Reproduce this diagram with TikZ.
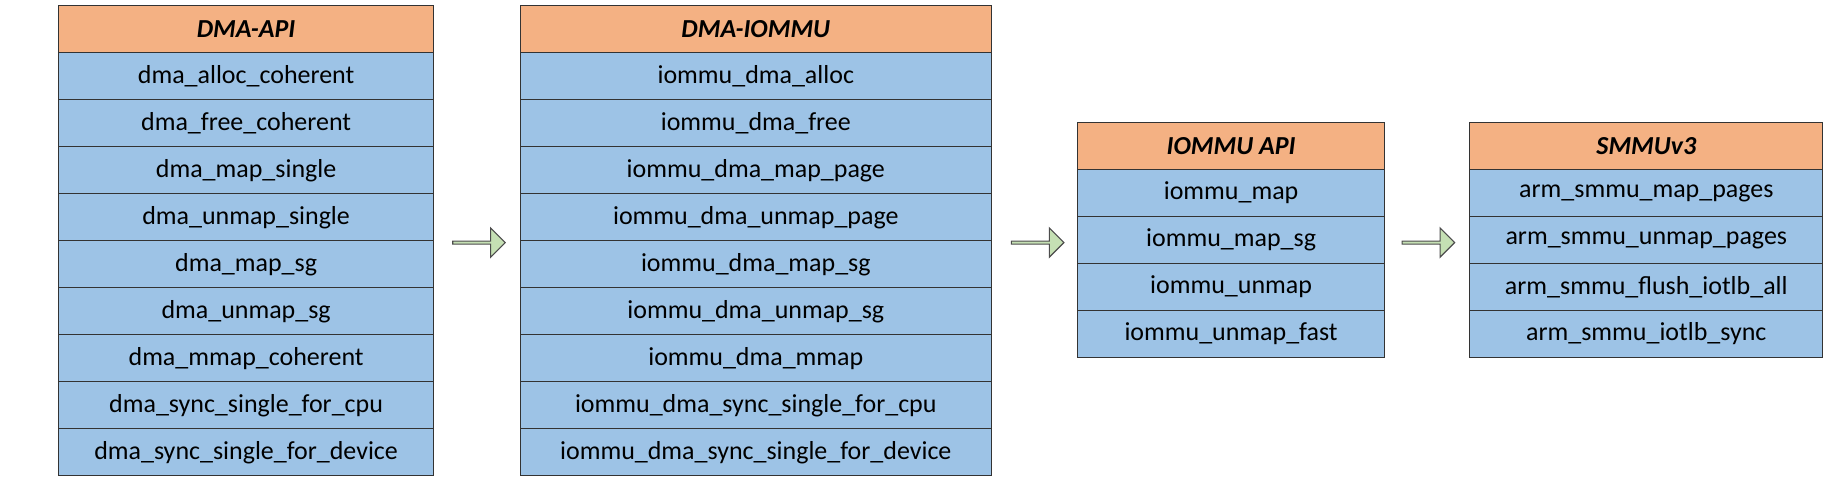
\documentclass[tikz,border=0pt]{standalone}
\usepackage{fontspec}
\setmainfont{Carlito}
\usetikzlibrary{positioning,shapes.arrows}
\definecolor{headorange}{HTML}{F4B183}
\definecolor{rowblue}{HTML}{9DC3E6}
\definecolor{arrowgreen}{HTML}{C5E0B4}
\tikzset{
  cell/.style={draw=black!80, line width=0.8pt, fill=rowblue, minimum height=1.209cm,
    inner sep=0pt, outer sep=0pt, font=\fontsize{19}{22}\selectfont},
  head/.style={cell, fill=headorange, font=\fontsize{19}{22}\selectfont\bfseries\itshape},
  layerarrow/.style={single arrow, draw=black!70, line width=0.8pt, fill=arrowgreen,
    minimum width=0.75cm, single arrow head extend=0.12cm, minimum height=1.35cm, inner sep=0pt},
}
\begin{document}
\begin{tikzpicture}[x=0.03cm, y=-0.03cm]
    \useasboundingbox (0,0) rectangle (1563,415);

    % DMA-API
    \node[head, minimum width=9.66cm, anchor=north west] (api) at (50,5) {DMA-API};
    \foreach \name [count=\i, remember=\i as \j (initially 0)] in
      {dma\_alloc\_coherent, dma\_free\_coherent, dma\_map\_single, dma\_unmap\_single,
       dma\_map\_sg, dma\_unmap\_sg, dma\_mmap\_coherent, dma\_sync\_single\_for\_cpu,
       dma\_sync\_single\_for\_device}
      {\ifnum\i=1 \node[cell, minimum width=9.66cm, below=0pt of api] (api\i) {\name};
       \else \node[cell, minimum width=9.66cm, below=0pt of api\j] (api\i) {\name}; \fi}

    % DMA-IOMMU
    \node[head, minimum width=12.12cm, anchor=north west] (dio) at (446,5) {DMA-IOMMU};
    \foreach \name [count=\i, remember=\i as \j (initially 0)] in
      {iommu\_dma\_alloc, iommu\_dma\_free, iommu\_dma\_map\_page, iommu\_dma\_unmap\_page,
       iommu\_dma\_map\_sg, iommu\_dma\_unmap\_sg, iommu\_dma\_mmap,
       iommu\_dma\_sync\_single\_for\_cpu, iommu\_dma\_sync\_single\_for\_device}
      {\ifnum\i=1 \node[cell, minimum width=12.12cm, below=0pt of dio] (dio\i) {\name};
       \else \node[cell, minimum width=12.12cm, below=0pt of dio\j] (dio\i) {\name}; \fi}

    % IOMMU API
    \node[head, minimum width=7.89cm, anchor=north west] (iapi) at (924,105) {IOMMU API};
    \foreach \name [count=\i, remember=\i as \j (initially 0)] in
      {iommu\_map, iommu\_map\_sg, iommu\_unmap, iommu\_unmap\_fast}
      {\ifnum\i=1 \node[cell, minimum width=7.89cm, below=0pt of iapi] (iapi\i) {\name};
       \else \node[cell, minimum width=7.89cm, below=0pt of iapi\j] (iapi\i) {\name}; \fi}

    % SMMUv3
    \node[head, minimum width=9.09cm, anchor=north west] (smmu) at (1260,105) {SMMUv3};
    \foreach \name [count=\i, remember=\i as \j (initially 0)] in
      {arm\_smmu\_map\_pages, arm\_smmu\_unmap\_pages, arm\_smmu\_flush\_iotlb\_all,
       arm\_smmu\_iotlb\_sync}
      {\ifnum\i=1 \node[cell, minimum width=9.09cm, below=0pt of smmu] (smmu\i) {\name};
       \else \node[cell, minimum width=9.09cm, below=0pt of smmu\j] (smmu\i) {\name}; \fi}

    % arrows between layers
    \node[layerarrow] (a1) at (410,208) {};
    \node[layerarrow] (a2) at (889,208) {};
    \node[layerarrow] (a3) at (1224,208) {};
\end{tikzpicture}
\end{document}
